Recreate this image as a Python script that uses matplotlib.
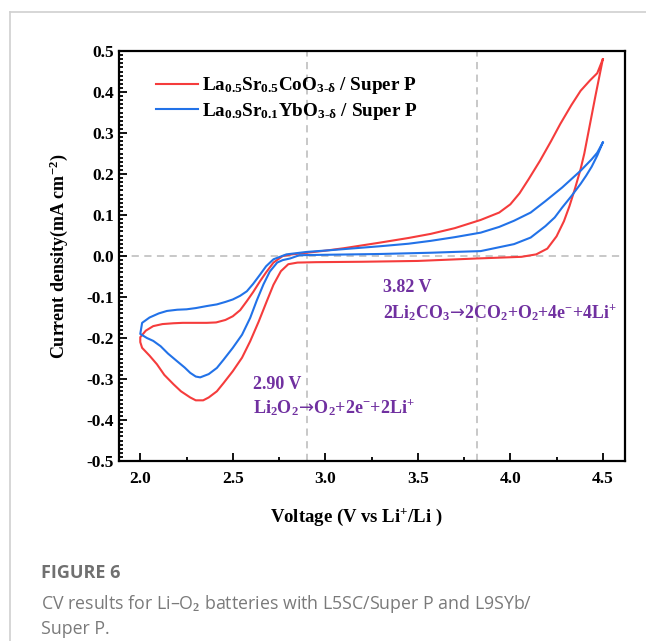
import numpy as np
import matplotlib.pyplot as plt
from matplotlib.ticker import MultipleLocator

# L5SC / Super P (red), traced in scan order: cathodic 4.5 -> 2.0, then anodic 2.0 -> 4.5
red_v = [4.50, 4.46, 4.43, 4.40, 4.38, 4.35, 4.32, 4.29, 4.25, 4.20, 4.14, 4.06, 3.82, 3.50, 3.20,
         2.95, 2.85, 2.80, 2.76, 2.72, 2.684, 2.64, 2.594, 2.55, 2.50, 2.45, 2.414, 2.37, 2.34, 2.30, 2.27,
         2.22, 2.18, 2.13, 2.09, 2.05, 2.01, 2.00,
         2.00, 2.03, 2.07, 2.12, 2.18, 2.23, 2.30, 2.36, 2.41, 2.46, 2.50, 2.54, 2.576, 2.61, 2.648,
         2.68, 2.72, 2.77, 2.82, 2.90, 3.00, 3.10, 3.30, 3.45, 3.57, 3.70, 3.84, 3.94, 4.00,
         4.05, 4.10, 4.16, 4.22, 4.27, 4.33, 4.38, 4.43, 4.47, 4.50]
red_j = [0.480, 0.390, 0.320, 0.250, 0.212, 0.165, 0.122, 0.085, 0.048, 0.018, 0.004, -0.002, -0.006, -0.012, -0.014,
         -0.015, -0.016, -0.020, -0.037, -0.070, -0.110, -0.160, -0.208, -0.248, -0.281, -0.310, -0.330, -0.345, -0.352, -0.352, -0.345,
         -0.330, -0.313, -0.290, -0.264, -0.243, -0.224, -0.210,
         -0.198, -0.182, -0.171, -0.166, -0.164, -0.163, -0.163, -0.163, -0.162, -0.156, -0.147, -0.132, -0.110, -0.088, -0.061,
         -0.040, -0.016, 0.000, 0.004, 0.008, 0.013, 0.019, 0.033, 0.044, 0.054, 0.068, 0.088, 0.106, 0.126,
         0.153, 0.188, 0.232, 0.280, 0.322, 0.368, 0.403, 0.428, 0.446, 0.480]

# L9SYb / Super P (blue)
blue_v = [4.50, 4.47, 4.44, 4.41, 4.38, 4.33, 4.28, 4.24, 4.19, 4.11, 4.02, 3.84, 3.70, 3.57, 3.30, 3.00,
          2.86, 2.81, 2.77, 2.74, 2.70, 2.666, 2.63, 2.594, 2.55, 2.50, 2.45, 2.414, 2.37, 2.324, 2.30, 2.27,
          2.24, 2.20, 2.15, 2.11, 2.07, 2.036, 2.00,
          2.01, 2.05, 2.10, 2.144, 2.20, 2.25, 2.30, 2.36, 2.414, 2.46, 2.50, 2.54, 2.576, 2.61, 2.648,
          2.68, 2.72, 2.79, 2.90, 3.05, 3.30, 3.45, 3.57, 3.70, 3.84, 3.94, 4.02, 4.11, 4.19, 4.28, 4.38, 4.44, 4.47, 4.50]
blue_j = [0.277, 0.245, 0.218, 0.196, 0.176, 0.146, 0.118, 0.094, 0.073, 0.045, 0.029, 0.012, 0.010, 0.008, 0.005, 0.003,
          0.002, -0.006, -0.010, -0.016, -0.038, -0.069, -0.108, -0.151, -0.192, -0.224, -0.253, -0.273, -0.288, -0.296, -0.294, -0.285,
          -0.272, -0.257, -0.238, -0.220, -0.207, -0.200, -0.190,
          -0.163, -0.150, -0.140, -0.134, -0.131, -0.130, -0.127, -0.122, -0.118, -0.112, -0.106, -0.097, -0.086, -0.068, -0.045,
          -0.025, -0.008, 0.004, 0.010, 0.015, 0.024, 0.030, 0.037, 0.046, 0.057, 0.071, 0.086, 0.106, 0.134, 0.167, 0.208, 0.236, 0.252, 0.277]

ref_v = [2.90, 3.82]
labels = [r'La$_{\mathbf{0.5}}$Sr$_{\mathbf{0.5}}$CoO$_{\mathbf{3\text{-}\delta}}$ / Super P',
          r'La$_{\mathbf{0.9}}$Sr$_{\mathbf{0.1}}$YbO$_{\mathbf{3\text{-}\delta}}$ / Super P']

plt.rcParams['font.family'] = 'Liberation Serif'
plt.rcParams['font.weight'] = 'bold'
plt.rcParams['axes.labelweight'] = 'bold'
plt.rcParams['mathtext.fontset'] = 'custom'
plt.rcParams['mathtext.rm'] = 'Liberation Serif:bold'
plt.rcParams['mathtext.it'] = 'Liberation Serif:bold'
plt.rcParams['mathtext.bf'] = 'Liberation Serif:bold'
plt.rcParams['mathtext.sf'] = 'DejaVu Sans:normal'

fig = plt.figure(figsize=(6.46, 6.41), dpi=100)
ax = fig.add_axes([0.1842, 0.2808, 0.7833, 0.6396])

for x in ref_v:
    ax.axvline(x, color='#c4c4c4', ls=(0, (4, 3)), lw=1.3, zorder=0)
ax.axhline(0, color='#c4c4c4', ls=(0, (4, 3)), lw=1.3, zorder=0)

ax.plot(red_v, red_j, color='#f53c3c', lw=1.5, label=labels[0])
ax.plot(blue_v, blue_j, color='#2272e8', lw=1.5, label=labels[1])

ax.set_xlim(1.885, 4.62)
ax.set_ylim(-0.5, 0.5)
ax.xaxis.set_major_locator(MultipleLocator(0.5))
ax.xaxis.set_minor_locator(MultipleLocator(0.25))
ax.yaxis.set_major_locator(MultipleLocator(0.1))
ax.yaxis.set_minor_locator(MultipleLocator(0.01))
ax.tick_params(which='both', direction='in', width=1.3, labelsize=12.5)
ax.tick_params(which='major', length=6)
ax.tick_params(which='minor', length=3)
ax.tick_params(axis='x', pad=7)
ax.yaxis.set_major_formatter(plt.FuncFormatter(lambda v, p: f'{v:.1f}'))
for s in ax.spines.values():
    s.set_linewidth(1.6)

ax.set_xlabel(r'Voltage (V vs Li$^{+}$/Li )', fontsize=13.5)
ax.xaxis.set_label_coords(0.47, -0.112)
ax.set_ylabel(r'Current density(mA cm$^{-2}$)', fontsize=13, labelpad=12)

ax.legend(loc='upper left', bbox_to_anchor=(0.04, 0.983), frameon=False, fontsize=13.8,
          handlelength=2.15, handletextpad=0.2, labelspacing=0.25)

purple = '#7030a0'
arrow = r'$\!\mathsf{\rightarrow}\!$'
ax.text(2.61, -0.313, '2.90 V', color=purple, fontsize=13, va='center')
ax.text(2.61, -0.369, 'Li$_2$O$_2$' + arrow + 'O$_2$+2e$^{-}$+2Li$^{+}$', color=purple, fontsize=13, va='center')
ax.text(3.31, -0.078, '3.82 V', color=purple, fontsize=13, va='center')
ax.text(3.31, -0.137, '2Li$_2$CO$_3$' + arrow + '2CO$_2$+O$_2$+4e$^{-}$+4Li$^{+}$', color=purple, fontsize=12.8, va='center')

# card frame and caption
fig.add_artist(plt.Line2D([10 / 646, 1], [1 - 12 / 641, 1 - 12 / 641], color='#d0d0d0', lw=1.2))
fig.add_artist(plt.Line2D([10 / 646, 10 / 646], [0, 1 - 12 / 641], color='#d0d0d0', lw=1.2))
fig.text(41 / 646, 1 - 573 / 641, 'FIGURE 6', family='Open Sans', fontweight='bold', fontsize=13,
         color='#707070', va='center')
fig.text(41 / 646, 1 - 604 / 641, 'CV results for Li–O$_2$ batteries with L5SC/Super P and L9SYb/',
         family='Open Sans', fontweight='normal', fontsize=12.8, color='#7a7a7a', va='center')
fig.text(41 / 646, 1 - 629 / 641, 'Super P.', family='Open Sans', fontweight='normal', fontsize=12.8,
         color='#7a7a7a', va='center')

fig.savefig('out.png', dpi=100)
